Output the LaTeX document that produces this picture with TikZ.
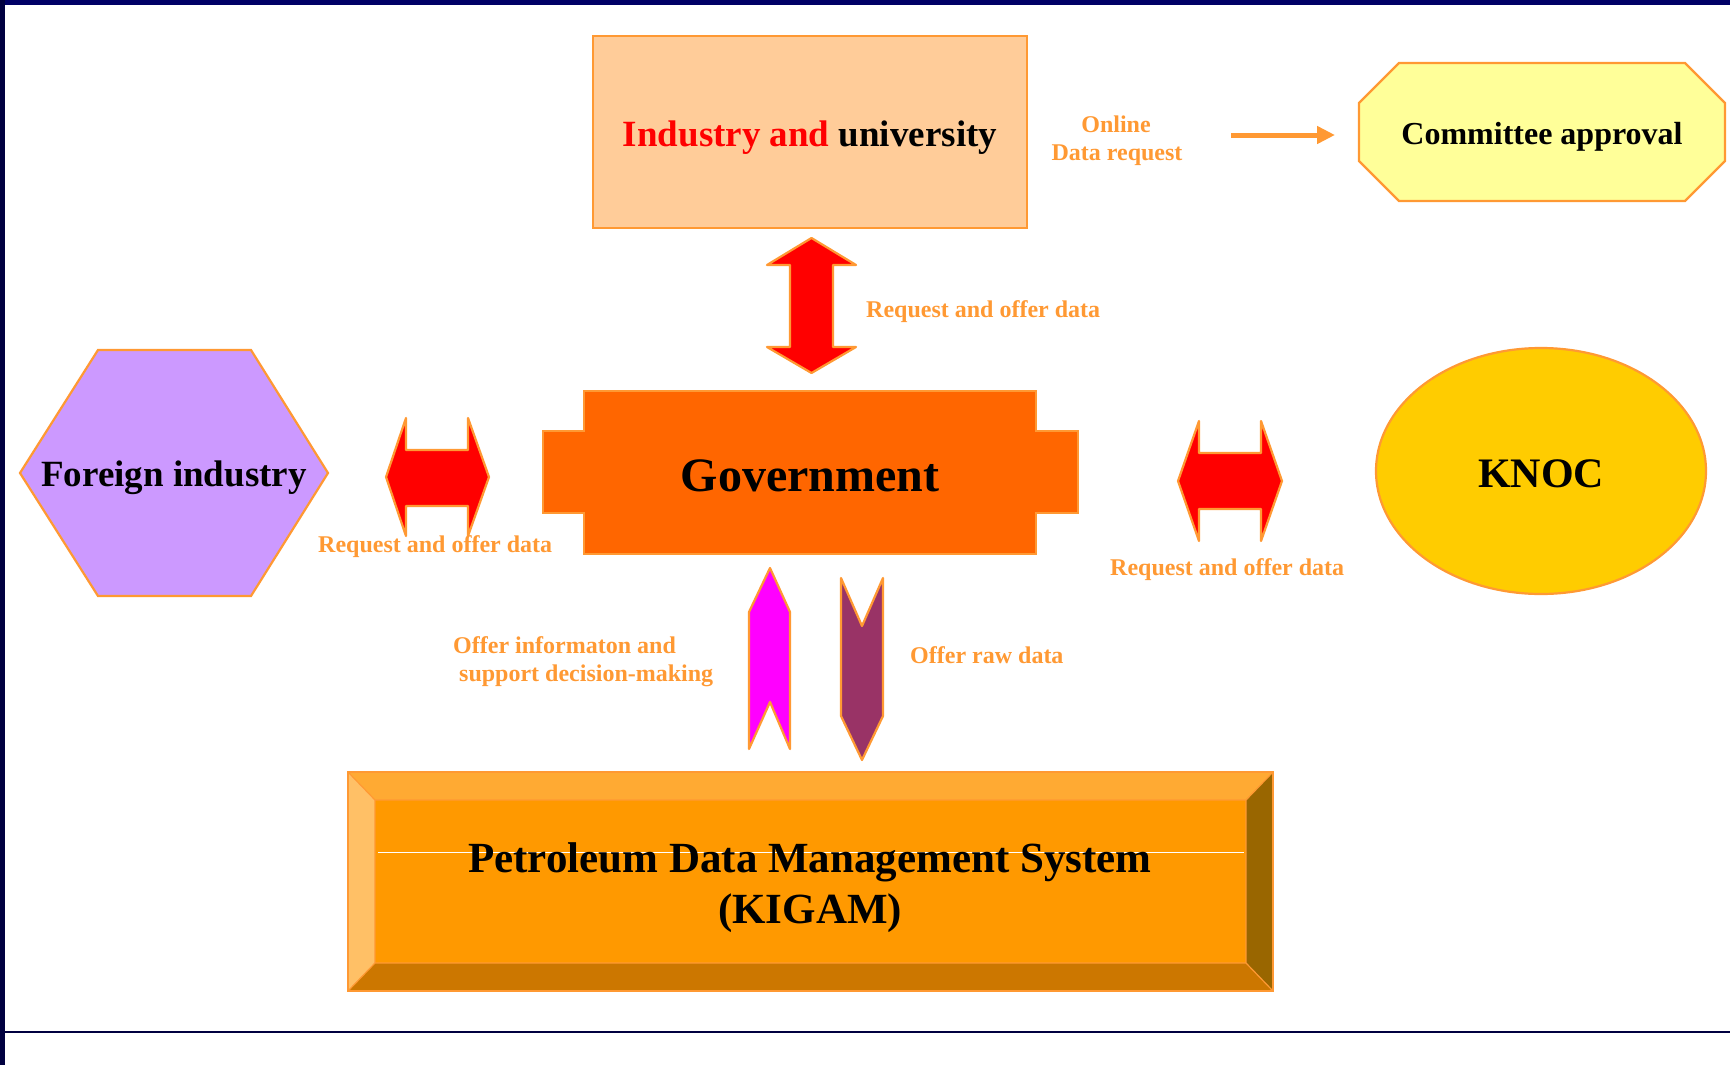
\documentclass[tikz,border=0pt]{standalone}
\usepackage{fontspec}
\setmainfont{Liberation Serif}
\usetikzlibrary{arrows.meta}
\definecolor{oline}{HTML}{FF9933}
\definecolor{indfill}{HTML}{FFCC99}
\definecolor{govfill}{HTML}{FF6600}
\definecolor{hexfill}{HTML}{CC99FF}
\definecolor{knocfill}{HTML}{FFCC00}
\definecolor{comfill}{HTML}{FFFF99}
\definecolor{arrred}{HTML}{FF0000}
\definecolor{arrmag}{HTML}{FF00FF}
\definecolor{arrplum}{HTML}{993366}
\definecolor{bface}{HTML}{FF9900}
\definecolor{btop}{HTML}{FFAA33}
\definecolor{bleft}{HTML}{FFC066}
\definecolor{bright}{HTML}{996600}
\definecolor{bbot}{HTML}{CC7700}
\definecolor{navy}{HTML}{000066}
\definecolor{navyd}{HTML}{000040}
\tikzset{
  shapeline/.style={draw=oline, line width=2.2pt, line join=miter},
  blockarrow/.style={draw=oline, line width=2.2pt, line join=round},
  lbl/.style={text=oline, font=\fontsize{24}{28}\selectfont\bfseries, inner sep=0pt},
  big/.style={text=black, font=\fontsize{#1}{#1}\selectfont\bfseries, inner sep=0pt},
}
\begin{document}
\begin{tikzpicture}[x=1pt,y=-1pt]
\useasboundingbox (0,0) rectangle (1730,1065);
\fill[white] (0,0) rectangle (1730,1065);
% frame
\fill[navy] (0,0) rectangle (1730,5.5);
\fill[navyd] (0,0) rectangle (4.8,1065);
\draw[navyd, line width=1.3pt] (4.8,1032) -- (1730,1032);

% Industry and university
\draw[shapeline, fill=indfill] (593,36) rectangle (1027,228);
\node[big=37, anchor=base] (ind) at (810,146) {\textcolor{arrred}{Industry and} university};

% Committee approval octagon
\draw[shapeline, fill=comfill] (1399,63) -- (1685,63) -- (1725,103) -- (1725,161) -- (1685,201) -- (1399,201) -- (1359,161) -- (1359,103) -- cycle;
\node[big=32, anchor=base] (com) at (1542,144) {Committee approval};

% Online data request
\node[lbl, anchor=base] (onl) at (1116,132) {Online};
\node[lbl, anchor=base] (odr) at (1117,160) {Data request};
\coordinate (oa1) at (1231,135);
\coordinate (oa2) at (1335,135);
\draw[oline, line width=5pt, -{Triangle[length=18pt,width=17pt]}] (oa1) -- (oa2);

% vertical double arrow
\draw[blockarrow, fill=arrred] (811.5,238) -- (856,265) -- (833,265) -- (833,347) -- (856,347) -- (811.5,373) -- (767,347) -- (790,347) -- (790,265) -- (767,265) -- cycle;
\node[lbl, anchor=base west] (lv) at (866,317) {Request and offer data};

% Government
\draw[shapeline, fill=govfill] (584,391) -- (1036,391) -- (1036,431) -- (1078,431) -- (1078,513) -- (1036,513) -- (1036,554) -- (584,554) -- (584,513) -- (543,513) -- (543,431) -- (584,431) -- cycle;
\node[big=48, anchor=base] (gov) at (810,491) {Government};

% Foreign industry hexagon
\draw[shapeline, fill=hexfill] (20,473) -- (98,350) -- (251,350) -- (328,473) -- (251,596) -- (98,596) -- cycle;
\node[big=37, anchor=base] (fi) at (174,486) {Foreign industry};

% left horizontal double arrow
\draw[blockarrow, fill=arrred] (386,477) -- (406,418) -- (406,450) -- (468,450) -- (468,418) -- (489,477) -- (468,536) -- (468,506) -- (406,506) -- (406,536) -- cycle;
\node[lbl, anchor=base west] (ll) at (318,552) {Request and offer data};

% right horizontal double arrow
\draw[blockarrow, fill=arrred] (1178,481) -- (1199,421) -- (1199,453) -- (1261,453) -- (1261,421) -- (1282,481) -- (1261,541) -- (1261,509) -- (1199,509) -- (1199,541) -- cycle;
\node[lbl, anchor=base west] (lr) at (1110,575) {Request and offer data};

% KNOC ellipse
\draw[shapeline, fill=knocfill] (1541,471) ellipse [x radius=165, y radius=123];
\node[big=42, anchor=base] (knoc) at (1541,487) {KNOC};

% up arrow (magenta)
\draw[blockarrow, fill=arrmag] (770,568) -- (790,612) -- (790,749) -- (770,702) -- (749,749) -- (749,612) -- cycle;
\node[lbl, anchor=base west] (loi) at (453,653) {Offer informaton and};
\node[lbl, anchor=base west] (lsd) at (459,681) {support decision-making};

% down arrow (plum)
\draw[blockarrow, fill=arrplum] (841,578) -- (862,626) -- (883,578) -- (883,716) -- (862,760) -- (841,716) -- cycle;
\node[lbl, anchor=base west] (lraw) at (910,663) {Offer raw data};

% PDMS bevel box
\fill[btop] (348,772) -- (1273,772) -- (1246,800) -- (375,800) -- cycle;
\fill[bleft] (348,772) -- (375,800) -- (375,963) -- (348,991) -- cycle;
\fill[bright] (1273,772) -- (1273,991) -- (1246,963) -- (1246,800) -- cycle;
\fill[bbot] (348,991) -- (375,963) -- (1246,963) -- (1273,991) -- cycle;
\fill[bface] (375,800) rectangle (1246,963);
\draw[oline, line width=1.2pt] (348,772) -- (375,800) (1273,772) -- (1246,800) (348,991) -- (375,963) (1273,991) -- (1246,963) (375,800) rectangle (1246,963);
\draw[shapeline] (348,772) rectangle (1273,991);
\draw[white, line width=1pt] (378,852) -- (1244,852);
\node[big=43, anchor=base] (pdms) at (810,872) {Petroleum Data Management System};
\node[big=43, anchor=base] (kigam) at (810,923) {(KIGAM)};
\end{tikzpicture}
\end{document}
